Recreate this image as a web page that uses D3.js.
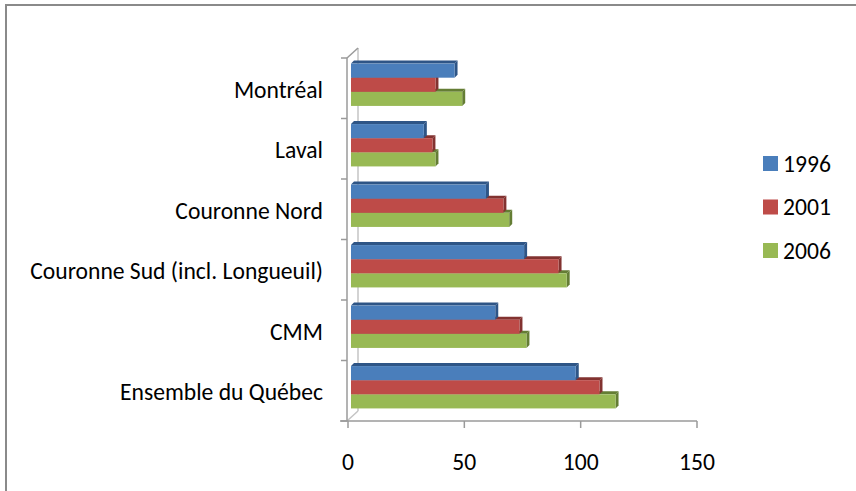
<!DOCTYPE html>
<html>
<head>
<meta charset="utf-8">
<script src="https://cdn.jsdelivr.net/npm/d3@7"></script>
<style>
  html, body { margin: 0; padding: 0; background: #fff; }
  svg { display: block; }
  text { font-family: Carlito, Lato, "Open Sans", sans-serif; fill: #000; }
</style>
</head>
<body>
<svg id="chart"></svg>
<script>
// ─── Data ─────────────────────────────────────────────────────────────────────
const categories = ['Montréal', 'Laval', 'Couronne Nord', 'Couronne Sud (incl. Longueuil)', 'CMM', 'Ensemble du Québec'];
const seriesNames = ['1996', '2001', '2006'];
const values1996 = [44.5, 31.3, 58.0, 74.4, 62.0, 96.6];
const values2001 = [36.3, 35.0, 65.5, 89.2, 72.4, 106.8];
const values2006 = [47.8, 36.3, 68.0, 92.7, 75.4, 113.7];
const xTicks = [0, 50, 100, 150];

const colors = ['#4A7EBB', '#BE4B48', '#98B954'];
const sideColors = ['#2E5586', '#823230', '#647D34'];

const W = 856, H = 491;
const svg = d3.select('#chart').attr('width', W).attr('height', H);

// outer frame (only top and left visible in the crop)
svg.append('line').attr('x1', 5).attr('x2', W).attr('y1', 5).attr('y2', 5)
  .attr('stroke', '#8a8a8a').attr('stroke-width', 2);
svg.append('line').attr('x1', 6).attr('x2', 6).attr('y1', 5).attr('y2', H)
  .attr('stroke', '#8a8a8a').attr('stroke-width', 2);

// ─── Scales ───────────────────────────────────────────────────────────────────
const x = d3.scaleLinear().domain([0, 150]).range([348, 697]);
const y = d3.scaleBand().domain(categories).range([58, 421]).paddingInner(0.3).paddingOuter(0.15);
const ySeries = d3.scaleBand().domain(seriesNames).range([0, y.bandwidth()]);

const depthX = 11, depthY = 10;   // 3D wall depth
const bx = 3, by = -3.5;          // bar plane offset
const sd = 3;                     // bar thickness in depth

// font size fitted to the longest label width
const probe = svg.append('text').attr('font-size', 20).text(categories[3]);
const fs = 20 * 293 / probe.node().getComputedTextLength();
probe.remove();

// ─── Walls / axes ─────────────────────────────────────────────────────────────
const axisColor = '#9a9a9a';
const g = svg.append('g');
// back wall edge
g.append('line').attr('x1', x(0) - 1 + depthX).attr('x2', x(0) - 1 + depthX)
  .attr('y1', 58 - depthY).attr('y2', 421 - depthY).attr('stroke', '#c4c4c4').attr('stroke-width', 1.5);
g.append('line').attr('x1', x(0) - 1).attr('x2', x(0) - 1 + depthX)
  .attr('y1', 58).attr('y2', 58 - depthY).attr('stroke', axisColor).attr('stroke-width', 1.5);
g.append('line').attr('x1', x(0) - 1).attr('x2', x(0) - 1 + depthX)
  .attr('y1', 421).attr('y2', 421 - depthY).attr('stroke', '#c4c4c4').attr('stroke-width', 1.5);

// vertical axis
g.append('line').attr('x1', x(0) - 1).attr('x2', x(0) - 1).attr('y1', 58).attr('y2', 421)
  .attr('stroke', axisColor).attr('stroke-width', 1.5);
const bounds = categories.map(c => y(c) - y.step() * y.paddingInner() / 2).concat([421]);
g.selectAll('.ytick').data(bounds).join('line')
  .attr('x1', x(0) - 7).attr('x2', x(0) - 1)
  .attr('y1', d => d).attr('y2', d => d)
  .attr('stroke', axisColor).attr('stroke-width', 1.5);

// horizontal axis
g.append('line').attr('x1', x(0) - 8).attr('x2', x(150)).attr('y1', 421).attr('y2', 421)
  .attr('stroke', axisColor).attr('stroke-width', 1.5);
g.selectAll('.xtick').data(xTicks).join('line')
  .attr('x1', d => x(d)).attr('x2', d => x(d)).attr('y1', 421).attr('y2', 428)
  .attr('stroke', axisColor).attr('stroke-width', 1.5);
g.selectAll('.xlabel').data(xTicks).join('text')
  .attr('x', d => x(d)).attr('y', 470)
  .attr('text-anchor', 'middle').attr('font-size', fs)
  .text(d => d);

// category labels
g.selectAll('.ylabel').data(categories).join('text')
  .attr('x', 323).attr('y', d => y(d) + y.bandwidth() / 2 + 1)
  .attr('dy', '0.35em').attr('text-anchor', 'end').attr('font-size', fs)
  .text(d => d);

// ─── Bars (bottom series first so upper bars hide top faces) ──────────────────
const allSeries = [values1996, values2001, values2006];
for (let s = seriesNames.length - 1; s >= 0; s--) {
  const vals = allSeries[s];
  const grp = svg.append('g');
  categories.forEach((c, i) => {
    const x0 = x(0) + bx;
    const x1 = x(vals[i]) + bx;
    const y0 = y(c) + ySeries(seriesNames[s]) + by;
    const h = ySeries.bandwidth();
    // top face
    grp.append('path')
      .attr('d', `M${x0},${y0} L${x0 + sd},${y0 - sd} L${x1 + sd},${y0 - sd} L${x1},${y0} Z`)
      .attr('fill', sideColors[s]);
    // side face
    grp.append('path')
      .attr('d', `M${x1},${y0} L${x1 + sd},${y0 - sd} L${x1 + sd},${y0 + h - sd} L${x1},${y0 + h} Z`)
      .attr('fill', sideColors[s]);
    // front face
    grp.append('rect')
      .attr('x', x0).attr('y', y0).attr('width', x1 - x0).attr('height', h)
      .attr('fill', colors[s]);
  });
}

// ─── Legend ───────────────────────────────────────────────────────────────────
const legend = svg.append('g');
seriesNames.forEach((name, i) => {
  const ly = 156 + i * 43.5;
  legend.append('rect').attr('x', 763).attr('y', ly).attr('width', 15).attr('height', 15)
    .attr('fill', colors[i]);
  legend.append('text').attr('x', 783).attr('y', ly + 15.5).attr('font-size', fs).text(name);
});
</script>
</body>
</html>
